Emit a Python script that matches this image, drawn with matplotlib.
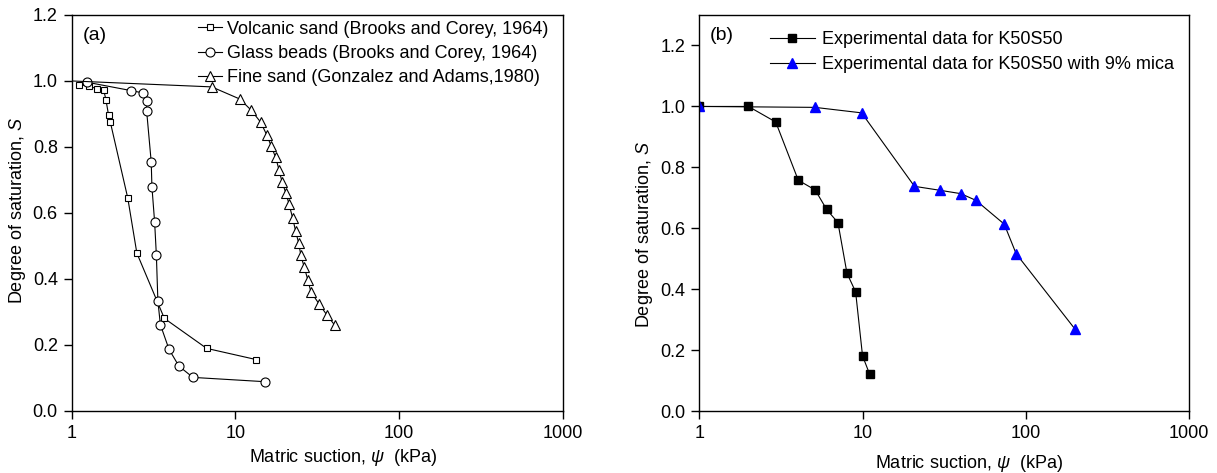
import matplotlib
matplotlib.use("Agg")
import matplotlib.pyplot as plt
from matplotlib.ticker import FixedLocator, FixedFormatter, NullLocator

plt.rcParams["font.family"] = ["Liberation Sans", "DejaVu Sans"]
plt.rcParams["mathtext.fontset"] = "custom"
plt.rcParams["mathtext.rm"] = "Liberation Sans"
plt.rcParams["mathtext.it"] = "Liberation Sans:italic"

# ---- (a) literature soil-water characteristic data ----
volcanic_psi = [1.11, 1.27, 1.42, 1.57, 1.62, 1.68, 1.72, 2.20, 2.50, 3.68, 6.67, 13.4]
volcanic_s = [0.989, 0.984, 0.977, 0.972, 0.942, 0.896, 0.876, 0.645, 0.478, 0.280, 0.189, 0.155]

glass_psi = [1.245, 2.29, 2.71, 2.87, 2.87, 3.06, 3.09, 3.21, 3.29, 3.36, 3.48, 3.93, 4.52, 5.50, 15.1]
glass_s = [0.996, 0.971, 0.964, 0.939, 0.908, 0.754, 0.679, 0.572, 0.471, 0.333, 0.261, 0.186,
           0.135, 0.101, 0.088]

fine_psi = [1.0, 7.16, 10.65, 12.49, 14.25, 15.57, 16.54, 17.6, 18.44, 19.23, 20.34, 21.21, 22.35,
            23.3, 24.3, 25.1, 26.3, 27.7, 28.9, 32.5, 36.3, 40.3]
fine_s = [1.0, 0.982, 0.945, 0.911, 0.875, 0.835, 0.802, 0.768, 0.731, 0.695, 0.659, 0.628, 0.584,
          0.545, 0.509, 0.471, 0.435, 0.396, 0.360, 0.323, 0.289, 0.260]

# ---- (b) experimental data ----
k50_psi = [1.0, 2.0, 2.94, 4.04, 5.13, 6.03, 7.07, 8.03, 9.07, 10.0, 11.05]
k50_s = [1.0, 1.0, 0.949, 0.758, 0.726, 0.662, 0.619, 0.453, 0.392, 0.182, 0.122]

mica_psi = [1.0, 5.11, 9.87, 20.8, 29.8, 40.0, 49.5, 73.8, 87.3, 200.0]
mica_s = [1.0, 0.997, 0.979, 0.738, 0.725, 0.714, 0.692, 0.614, 0.517, 0.27]

x_ticks = [1, 10, 100, 1000]
x_tick_labels = ["1", "10", "100", "1000"]
y_ticks = [0.0, 0.2, 0.4, 0.6, 0.8, 1.0, 1.2]
y_tick_labels = ["0.0", "0.2", "0.4", "0.6", "0.8", "1.0", "1.2"]

FS = 13

fig = plt.figure(figsize=(12.17, 4.73), dpi=100)
ax_a = fig.add_axes([0.0589, 0.1317, 0.4037, 0.8366])
ax_b = fig.add_axes([0.5746, 0.1304, 0.4024, 0.8379])


def style_axes(ax, ymax):
    ax.set_xscale("log")
    ax.set_xlim(1, 1000)
    ax.set_ylim(0, ymax)
    ax.xaxis.set_major_locator(FixedLocator(x_ticks))
    ax.xaxis.set_major_formatter(FixedFormatter(x_tick_labels))
    ax.xaxis.set_minor_locator(NullLocator())
    ax.yaxis.set_major_locator(FixedLocator(y_ticks))
    ax.yaxis.set_major_formatter(FixedFormatter(y_tick_labels))
    ax.yaxis.set_minor_locator(NullLocator())
    ax.tick_params(direction="out", length=6, width=1.0, labelsize=FS, pad=4,
                   top=False, right=False)
    for sp in ax.spines.values():
        sp.set_linewidth(1.0)
    ax.set_ylabel("Degree of saturation, $S$", fontsize=FS)
    ax.set_xlabel(r"Matric suction, $\psi$  (kPa)", fontsize=FS)


style_axes(ax_a, 1.2)
style_axes(ax_b, 1.3)

line_kw = dict(color="black", lw=0.8)
ax_a.plot(volcanic_psi, volcanic_s, marker="s", ms=5, mfc="white", mec="black", mew=0.8,
          label="Volcanic sand (Brooks and Corey, 1964)", **line_kw)
ax_a.plot(glass_psi, glass_s, marker="o", ms=6.5, mfc="white", mec="black", mew=0.8,
          label="Glass beads (Brooks and Corey, 1964)", **line_kw)
# the first fine-sand point sits on the axis edge and is drawn as line only
ax_a.plot(fine_psi, fine_s, marker="^", ms=6.5, mfc="white", mec="black", mew=0.8,
          markevery=slice(1, None),
          label="Fine sand (Gonzalez and Adams,1980)", **line_kw)

ax_b.plot(k50_psi, k50_s, marker="s", ms=5.5, mfc="black", mec="black",
          label="Experimental data for K50S50", **line_kw)
ax_b.plot(mica_psi, mica_s, marker="^", ms=7, mfc="blue", mec="blue",
          label="Experimental data for K50S50 with 9% mica", **line_kw)

ax_a.legend(loc="upper left", bbox_to_anchor=(0.257, 0.986), frameon=False, fontsize=FS,
            handlelength=1.35, handletextpad=0.27, labelspacing=0.41, borderpad=0,
            borderaxespad=0)
ax_b.legend(loc="upper left", bbox_to_anchor=(0.144, 0.959), frameon=False, fontsize=FS,
            handlelength=2.5, handletextpad=0.38, labelspacing=0.45, borderpad=0,
            borderaxespad=0)

ax_a.text(0.022, 0.970, "(a)", transform=ax_a.transAxes, fontsize=14, va="top", ha="left")
ax_b.text(0.022, 0.970, "(b)", transform=ax_b.transAxes, fontsize=14, va="top", ha="left")

ax_a.xaxis.set_label_coords(0.552, -0.092)
ax_b.xaxis.set_label_coords(0.551, -0.105)
ax_a.yaxis.set_label_coords(-0.088, 0.505)
ax_b.yaxis.set_label_coords(-0.0905, 0.445)

fig.savefig("out.png", dpi=100)
